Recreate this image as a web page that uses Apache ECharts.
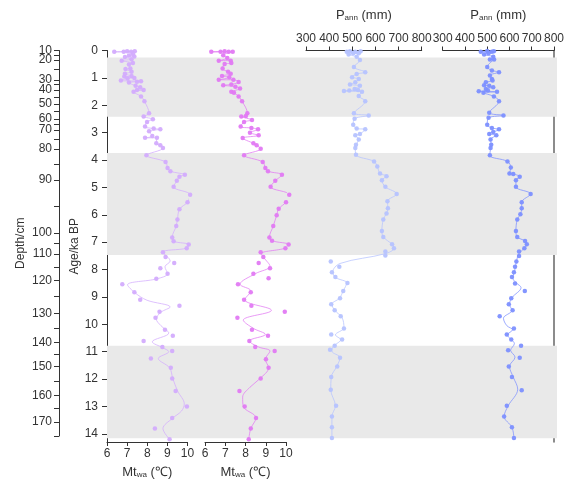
<!DOCTYPE html>
<html>
<head>
<meta charset="utf-8">
<script src="https://cdn.jsdelivr.net/npm/echarts@6.0.0/dist/echarts.min.js"></script>
<style>
  html, body { margin: 0; padding: 0; background: #fff; }
  #main { width: 567px; height: 486px; }
</style>
</head>
<body>
<div id="main"></div>
<script>
// age (ka BP) tick values and the depth scale that sits beside it
var ageTicks = [0, 1, 2, 3, 4, 5, 6, 7, 8, 9, 10, 11, 12, 13, 14];
var depthLabels = [10, 20, 30, 40, 50, 60, 70, 80, 90, 100, 110, 120, 130, 140, 150, 160, 170];
var depthLabelAges = [0, 0.34, 1.07, 1.44, 1.95, 2.51, 2.9, 3.6, 4.73, 6.68, 7.44, 8.41, 9.61, 10.68, 11.56, 12.61, 13.58];
var depthMinorAges = [0.17, 0.7, 1.25, 1.7, 2.23, 2.7, 3.25, 4.15, 5.7, 7.06, 7.92, 9.0, 10.15, 11.12, 12.08, 13.1, 14.1];
var greyBands = [[0.26, 2.42], [3.74, 7.47], [10.78, 14.16]];

// [age, value] samples
var mtwa1Top = [[0.03,7.0],[0.03,7.38],[0.05,6.36],[0.05,6.83],[0.05,7.2],[0.13,7.29],[0.18,7.09],[0.22,7.36],[0.24,6.89],[0.32,7.22],[0.37,6.73],[0.46,7.29],[0.51,7.09],[0.66,7.16],[0.68,6.92],[0.78,7.22],[0.85,6.89],[0.93,7.22],[0.95,6.86],[1.0,7.36],[1.02,7.02],[1.1,6.69],[1.12,7.69],[1.14,7.49],[1.17,7.09],[1.29,7.42],[1.34,7.65],[1.44,7.49],[1.44,7.82],[1.51,7.32],[1.68,7.69],[1.85,7.86],[2.29,8.09],[2.41,7.82],[2.51,8.28],[2.61,7.99],[2.78,7.89],[2.85,8.32],[2.88,8.65],[2.95,8.09],[3.12,8.25],[3.19,7.89],[3.19,8.48],[3.39,8.45],[3.46,8.65],[3.56,8.78],[3.83,7.96],[4.07,8.91],[4.29,9.01],[4.41,9.15],[4.54,9.87],[4.61,9.6],[4.76,9.47],[4.98,9.31],[5.27,10.13],[5.54,10.0],[5.8,9.6],[6.17,9.5],[6.41,9.44],[6.83,9.24],[6.97,9.31],[7.09,10.06],[7.22,9.96]];
var mtwa1Low = [[7.37,8.78],[7.54,8.91],[7.76,9.34],[7.95,8.65],[8.15,9.01],[8.34,8.45],[8.54,6.76],[8.83,7.36],[9.1,7.65],[9.32,9.6],[9.54,8.61],[9.76,8.41],[10.2,8.88],[10.42,9.27],[10.61,7.82],[10.83,8.75],[10.98,9.24],[11.25,8.18],[11.59,9.17],[11.98,9.24],[12.44,9.41],[13.0,9.97],[13.42,9.24],[13.81,8.38],[14.2,9.11]];
var mtwa1Curve = [[7.37,8.78],[7.69,9.14],[7.9,8.88],[8.15,9.01],[8.34,8.48],[8.56,7.02],[8.85,7.39],[9.12,7.98],[9.37,9.14],[9.56,8.68],[9.81,8.45],[10.05,8.68],[10.32,9.07],[10.64,8.25],[10.86,8.78],[11.0,9.07],[11.25,8.55],[11.59,9.11],[11.98,9.27],[12.44,9.51],[12.91,9.84],[13.17,9.7],[13.44,9.24],[13.81,8.78],[14.2,9.11]];

var mtwa2Top = [[0.03,6.97],[0.05,6.31],[0.05,6.77],[0.05,7.17],[0.05,7.37],[0.17,6.9],[0.27,7.1],[0.37,6.68],[0.37,7.27],[0.46,7.3],[0.49,6.97],[0.66,6.87],[0.78,7.14],[0.85,7.27],[0.93,6.84],[0.98,7.2],[1.07,6.68],[1.07,7.4],[1.15,7.66],[1.24,7.3],[1.27,6.9],[1.32,7.5],[1.39,7.73],[1.51,7.3],[1.54,7.43],[1.68,7.66],[1.85,7.83],[2.29,8.09],[2.39,8.02],[2.41,7.79],[2.54,8.32],[2.61,7.93],[2.78,7.76],[2.83,8.29],[2.88,8.62],[3.0,8.22],[3.1,8.65],[3.2,7.86],[3.39,8.39],[3.46,8.55],[3.59,8.75],[3.83,7.93],[4.07,8.85],[4.29,8.98],[4.41,9.11],[4.54,9.8],[4.76,9.47],[4.98,9.24],[5.27,10.16],[5.54,10.0],[5.78,9.64],[6.02,9.54],[6.41,9.37],[6.83,9.18],[6.95,9.31],[7.09,10.13],[7.22,9.97]];
var mtwa2Low = [[7.37,8.75],[7.54,8.88],[7.76,8.65],[7.95,9.21],[8.15,8.39],[8.32,9.14],[8.54,7.63],[8.83,8.26],[9.1,7.93],[9.32,8.29],[9.54,9.94],[9.76,7.6],[10.2,8.32],[10.42,9.11],[10.61,8.19],[10.83,8.48],[10.98,9.44],[11.28,9.01],[11.59,9.14],[11.98,8.75],[12.44,7.7],[13.0,7.96],[13.42,8.52],[13.81,8.26],[14.2,8.16]];
var mtwa2Curve = [[7.42,8.78],[7.57,8.91],[7.88,9.21],[8.15,8.49],[8.54,7.73],[8.78,8.26],[9.1,7.96],[9.49,9.28],[9.85,7.89],[10.15,8.39],[10.37,8.98],[10.61,8.19],[10.83,8.65],[10.98,9.21],[11.28,8.98],[11.59,9.14],[11.98,8.72],[12.3,8.22],[12.66,7.86],[13.0,7.89],[13.42,8.52],[13.81,8.26],[14.2,8.16]];

var pann1Top = [[0.03,490],[0.03,536],[0.05,476],[0.05,513],[0.1,504],[0.1,528],[0.15,484],[0.23,519],[0.35,533],[0.6,507],[0.79,556],[0.86,519],[0.98,499],[1.04,528],[1.16,513],[1.24,490],[1.29,533],[1.41,510],[1.44,525],[1.46,487],[1.48,464],[1.51,542],[1.66,528],[1.85,556],[2.29,507],[2.37,571],[2.49,510],[2.71,504],[2.85,519],[2.88,556],[3.05,533],[3.1,513],[3.25,528],[3.44,516],[3.56,513],[3.81,516],[4.05,594],[4.24,608],[4.49,620],[4.59,648],[4.74,628],[4.98,643],[5.24,692],[5.51,652],[5.76,654],[5.95,648],[6.17,634],[6.59,628],[6.81,634],[7.08,672],[7.22,680]];
var pann1Low = [[7.34,643],[7.49,643],[7.71,407],[7.9,444],[8.1,412],[8.27,427],[8.49,479],[8.78,461],[9.05,447],[9.27,409],[9.49,424],[9.71,450],[10.15,464],[10.37,409],[10.56,456],[10.78,424],[10.93,404],[11.22,447],[11.54,435],[11.93,409],[12.39,407],[12.98,430],[13.37,412],[13.76,412],[14.15,412]];
var pann1Curve = [[7.42,643],[7.78,447],[8.1,415],[8.3,430],[8.49,476],[8.78,461],[9.05,444],[9.27,412],[9.49,424],[9.76,456],[10.12,464],[10.39,427],[10.56,450],[10.81,418],[10.98,412],[11.22,447],[11.54,433],[11.93,409],[12.39,407],[12.98,427],[13.37,412],[14.15,412]];

var pann2Top = [[0.02,500],[0.03,530],[0.05,471],[0.05,521],[0.1,506],[0.15,486],[0.23,527],[0.33,512],[0.33,531],[0.6,500],[0.73,521],[0.79,553],[0.91,512],[1.04,521],[1.1,524],[1.16,494],[1.27,486],[1.29,509],[1.34,527],[1.41,494],[1.46,503],[1.49,462],[1.51,544],[1.54,483],[1.68,530],[1.85,553],[2.27,509],[2.37,573],[2.46,506],[2.71,500],[2.83,521],[2.88,553],[2.98,527],[3.05,509],[3.1,541],[3.25,515],[3.44,518],[3.56,515],[3.83,512],[4.05,591],[4.27,606],[4.49,600],[4.51,617],[4.61,646],[4.74,629],[4.98,629],[5.24,695],[5.54,655],[5.76,655],[5.98,649],[6.17,635],[6.59,629],[6.81,635],[6.96,670],[7.08,678],[7.22,667]];
var pann2Low = [[7.34,643],[7.51,643],[7.71,631],[7.9,625],[8.1,620],[8.27,611],[8.51,625],[8.78,669],[9.05,608],[9.27,597],[9.49,614],[9.71,556],[10.15,620],[10.37,588],[10.56,608],[10.78,652],[10.95,594],[11.22,646],[11.54,597],[11.93,611],[12.41,655],[12.98,588],[13.37,576],[13.76,611],[14.15,620]];
var pann2Curve = [[7.41,643],[7.71,631],[8.1,622],[8.3,614],[8.49,631],[8.66,652],[9.03,611],[9.27,600],[9.49,611],[9.78,573],[10.05,588],[10.2,614],[10.39,591],[10.71,622],[10.95,605],[11.2,625],[11.54,600],[11.93,617],[12.37,637],[12.98,594],[13.37,576],[13.76,611],[14.15,620]];

var colMt1 = '#d3acfd';
var colMt2 = '#e27af3';
var colP1 = '#b6c3ff';
var colP2 = '#7d90ff';

var AGE_MAX = 14.3;
var txt = '#333';
var font = 'Liberation Sans';

function xy(arr) {
  return arr.map(function (p) { return [p[1], p[0]]; });
}

function subName(main, sub, unit) {
  return '{b|' + main + '}{s|' + sub + '}{b| ' + unit + '}';
}

var nameStyle = {
  color: txt, fontSize: 13, fontFamily: font,
  rich: {
    b: { fontSize: 13, color: txt, fontFamily: font },
    s: { fontSize: 8, color: txt, fontFamily: font, verticalAlign: 'bottom', padding: [4, 0, 0, 0] }
  }
};

function depthFmt(v) {
  var i = depthLabelAges.indexOf(v);
  return i < 0 ? '' : String(depthLabels[i]);
}

function valueX(gi, pos, min, max, step, name, gap) {
  return {
    type: 'value', gridIndex: gi, position: pos, min: min, max: max, interval: step,
    name: name, nameLocation: 'middle', nameGap: gap, nameTextStyle: nameStyle,
    axisLine: { show: true, onZero: false, lineStyle: { color: txt, width: 1 } },
    axisTick: { show: true, length: 4, lineStyle: { color: txt } },
    axisLabel: { color: txt, fontSize: 12, fontFamily: font, margin: 6 },
    splitLine: { show: false }
  };
}

function hiddenY(gi) {
  return { type: 'value', gridIndex: gi, inverse: true, min: 0, max: AGE_MAX, show: false };
}

function profile(gi, color, top, low, curve) {
  return [{
    type: 'line', xAxisIndex: gi, yAxisIndex: gi, data: xy(top.concat(curve)),
    smooth: 0.35, symbol: 'none', clip: false, z: 3,
    lineStyle: { color: color, width: 1, opacity: 0.75 }
  }, {
    type: 'scatter', xAxisIndex: gi, yAxisIndex: gi, data: xy(top.concat(low)),
    symbolSize: 4.5, clip: false, z: 4,
    itemStyle: { color: color, opacity: 0.95 }
  }];
}

var chart = echarts.init(document.getElementById('main'));

var option = {
  animation: false,
  backgroundColor: '#fff',
  grid: [
    { left: 107, top: 50.5, width: 80.5, height: 391.5 },
    { left: 205, top: 50.5, width: 81, height: 391.5 },
    { left: 306, top: 50.5, width: 115.7, height: 391.5 },
    { left: 442.7, top: 50.5, width: 114.6, height: 391.5 },
    { left: 107, top: 50.5, width: 450, height: 391.5 },
    { left: 59, top: 50.5, width: 10, height: 385.5 }
  ],
  xAxis: [
    valueX(0, 'bottom', 6, 10, 1, subName('Mt', 'wa', '(℃)'), 24),
    valueX(1, 'bottom', 6, 10, 1, subName('Mt', 'wa', '(℃)'), 24),
    valueX(2, 'top', 300, 800, 100, subName('P', 'ann', '(mm)'), 29),
    valueX(3, 'top', 300, 800, 100, subName('P', 'ann', '(mm)'), 29),
    { type: 'value', gridIndex: 4, min: 0, max: 1, show: false },
    { type: 'value', gridIndex: 5, min: 0, max: 1, show: false }
  ],
  yAxis: [
    {
      type: 'value', gridIndex: 0, position: 'left', inverse: true, min: 0, max: AGE_MAX,
      name: 'Age/ka BP', nameLocation: 'middle', nameGap: 26, nameRotate: 90,
      nameTextStyle: { color: txt, fontSize: 12, fontFamily: font },
      axisLine: { show: true, onZero: false, lineStyle: { color: txt } },
      axisTick: { show: true, length: 5, customValues: ageTicks, lineStyle: { color: txt } },
      axisLabel: { color: txt, fontSize: 12, fontFamily: font, margin: 9, customValues: ageTicks, showMinLabel: true, showMaxLabel: true },
      splitLine: { show: false }
    },
    hiddenY(1),
    hiddenY(2),
    {
      type: 'value', gridIndex: 3, position: 'right', inverse: true, min: 0, max: AGE_MAX,
      axisLine: { show: true, onZero: false, lineStyle: { color: '#666', width: 1.5 } },
      axisTick: { show: false }, axisLabel: { show: false }, splitLine: { show: false }
    },
    hiddenY(4),
    {
      type: 'value', gridIndex: 5, position: 'left', inverse: true, min: 0, max: 14.1,
      name: 'Depth/cm', nameLocation: 'middle', nameGap: 32, nameRotate: 90,
      nameTextStyle: { color: txt, fontSize: 12, fontFamily: font },
      axisLine: { show: true, onZero: false, lineStyle: { color: txt } },
      axisTick: { show: true, length: 5, customValues: depthLabelAges.concat(depthMinorAges), lineStyle: { color: txt } },
      axisLabel: {
        color: txt, fontSize: 12, fontFamily: font, margin: 7,
        customValues: depthLabelAges.filter(function (a, i) { return i !== 1; }),
        showMinLabel: true, showMaxLabel: true, formatter: depthFmt
      },
      splitLine: { show: false }
    },
    {
      // second label layer so the crowded 20 cm label is not dropped
      type: 'value', gridIndex: 5, position: 'left', inverse: true, min: 0, max: 14.1,
      axisLine: { show: false }, axisTick: { show: false }, splitLine: { show: false },
      axisLabel: {
        color: txt, fontSize: 12, fontFamily: font, margin: 7,
        customValues: [depthLabelAges[1]], formatter: depthFmt
      }
    }
  ],
  series: [{
    type: 'line', xAxisIndex: 4, yAxisIndex: 4, data: [[0, 0]], symbol: 'none', z: 0,
    lineStyle: { width: 0, opacity: 0 }, silent: true,
    markArea: {
      silent: true,
      itemStyle: { color: '#e9e9e9' },
      data: greyBands.map(function (b) { return [{ yAxis: b[0] }, { yAxis: b[1] }]; })
    }
  }]
    .concat(profile(0, colMt1, mtwa1Top, mtwa1Low, mtwa1Curve))
    .concat(profile(1, colMt2, mtwa2Top, mtwa2Low, mtwa2Curve))
    .concat(profile(2, colP1, pann1Top, pann1Low, pann1Curve))
    .concat(profile(3, colP2, pann2Top, pann2Low, pann2Curve))
};

chart.setOption(option);
</script>
</body>
</html>
